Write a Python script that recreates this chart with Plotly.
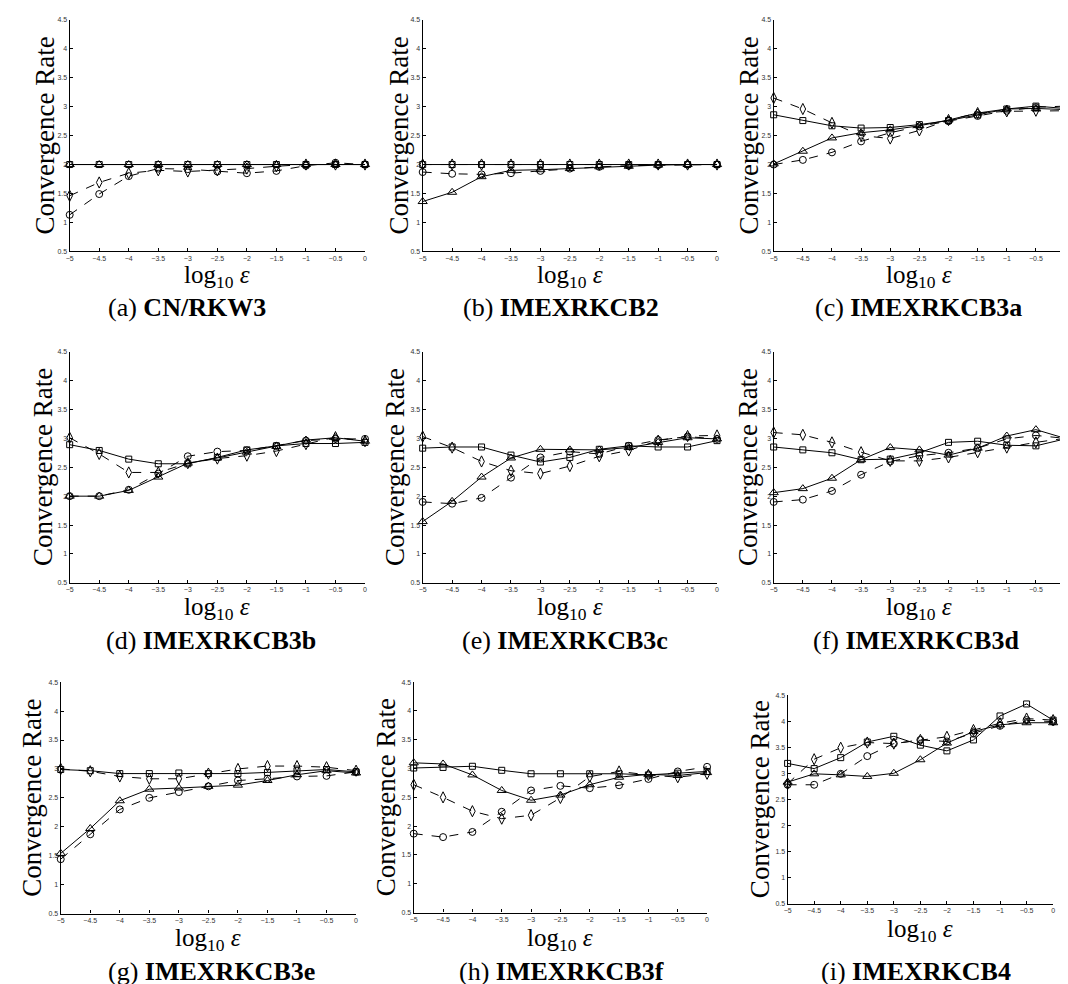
import plotly.graph_objects as go

W, H = 1068, 984

x_log_eps = [-5, -4.5, -4, -3.5, -3, -2.5, -2, -1.5, -1, -0.5, 0]

panel_labels = ["(a)", "(b)", "(c)", "(d)", "(e)", "(f)", "(g)", "(h)", "(i)"]
scheme_names = ["CN/RKW3", "IMEXRKCB2", "IMEXRKCB3a", "IMEXRKCB3b", "IMEXRKCB3c",
                "IMEXRKCB3d", "IMEXRKCB3e", "IMEXRKCB3f", "IMEXRKCB4"]

# series per panel: square (solid), triangle (solid), diamond (dashed), circle (dashed)
square_rates = [
    [2.0, 2.0, 2.0, 2.0, 2.0, 2.0, 2.0, 2.0, 2.0, 2.0, 2.0],
    [2.0, 2.0, 2.0, 2.0, 2.0, 2.0, 2.0, 2.0, 2.0, 2.0, 2.0],
    [2.86, 2.76, 2.67, 2.63, 2.64, 2.69, 2.76, 2.86, 2.96, 3.01, 2.97],
    [2.89, 2.79, 2.64, 2.56, 2.56, 2.67, 2.8, 2.87, 2.91, 2.91, 2.93],
    [2.83, 2.85, 2.85, 2.71, 2.59, 2.67, 2.81, 2.87, 2.85, 2.85, 2.96],
    [2.85, 2.8, 2.75, 2.63, 2.64, 2.75, 2.93, 2.95, 2.88, 2.87, 2.99],
    [2.99, 2.97, 2.92, 2.92, 2.93, 2.92, 2.92, 2.94, 2.97, 2.99, 2.95],
    [3.01, 3.02, 3.04, 2.97, 2.91, 2.91, 2.91, 2.91, 2.89, 2.92, 2.95],
    [3.19, 3.09, 3.3, 3.6, 3.71, 3.54, 3.43, 3.64, 4.1, 4.33, 4.02],
]
triangle_rates = [
    [2.0, 2.0, 2.0, 2.0, 2.0, 2.0, 2.0, 2.0, 2.0, 2.0, 2.0],
    [1.36, 1.52, 1.79, 1.9, 1.91, 1.93, 1.96, 1.97, 1.99, 2.0, 2.0],
    [2.01, 2.23, 2.46, 2.55, 2.6, 2.67, 2.77, 2.89, 2.96, 2.97, 2.95],
    [2.0, 2.0, 2.1, 2.33, 2.57, 2.66, 2.76, 2.86, 2.97, 3.01, 2.95],
    [1.56, 1.91, 2.33, 2.66, 2.81, 2.8, 2.8, 2.84, 2.93, 3.01, 2.99],
    [2.06, 2.13, 2.31, 2.63, 2.84, 2.8, 2.71, 2.83, 3.04, 3.15, 3.0],
    [1.54, 1.97, 2.45, 2.65, 2.67, 2.7, 2.72, 2.8, 2.9, 2.97, 2.93],
    [3.1, 3.08, 2.89, 2.62, 2.45, 2.54, 2.72, 2.85, 2.9, 2.88, 2.93],
    [2.83, 2.99, 2.97, 2.94, 3.0, 3.26, 3.58, 3.8, 3.93, 3.97, 3.97],
]
diamond_rates = [
    [1.46, 1.69, 1.85, 1.9, 1.88, 1.9, 1.93, 1.97, 2.0, 2.0, 2.0],
    [2.0, 2.0, 2.0, 2.0, 2.0, 2.0, 2.0, 2.0, 2.0, 2.0, 2.0],
    [3.15, 2.96, 2.72, 2.5, 2.45, 2.59, 2.77, 2.89, 2.92, 2.93, 2.93],
    [3.01, 2.73, 2.41, 2.41, 2.57, 2.65, 2.7, 2.78, 2.9, 3.02, 2.95],
    [3.03, 2.84, 2.6, 2.44, 2.39, 2.52, 2.69, 2.79, 2.96, 3.04, 3.05],
    [3.1, 3.06, 2.93, 2.76, 2.61, 2.61, 2.67, 2.76, 2.84, 2.93, 3.0],
    [3.0, 2.96, 2.87, 2.83, 2.83, 2.92, 3.0, 3.05, 3.05, 3.03, 2.97],
    [2.72, 2.5, 2.26, 2.13, 2.19, 2.49, 2.86, 2.95, 2.89, 2.85, 2.91],
    [2.8, 3.27, 3.49, 3.59, 3.57, 3.64, 3.7, 3.83, 3.96, 4.05, 4.02],
]
circle_rates = [
    [1.13, 1.49, 1.8, 1.93, 1.92, 1.88, 1.85, 1.89, 1.98, 2.03, 2.0],
    [1.87, 1.84, 1.83, 1.85, 1.89, 1.93, 1.96, 1.98, 1.99, 2.0, 2.0],
    [2.0, 2.08, 2.21, 2.4, 2.55, 2.66, 2.75, 2.84, 2.93, 2.99, 3.01],
    [2.0, 2.0, 2.11, 2.39, 2.69, 2.77, 2.79, 2.87, 2.96, 2.99, 2.99],
    [1.9, 1.87, 1.97, 2.32, 2.67, 2.77, 2.73, 2.87, 2.97, 3.03, 2.99],
    [1.9, 1.94, 2.09, 2.37, 2.6, 2.7, 2.75, 2.83, 2.99, 3.05, 3.0],
    [1.44, 1.87, 2.3, 2.5, 2.6, 2.7, 2.8, 2.83, 2.87, 2.88, 2.95],
    [1.87, 1.81, 1.9, 2.25, 2.62, 2.7, 2.66, 2.71, 2.82, 2.95, 3.03],
    [2.78, 2.78, 2.99, 3.33, 3.57, 3.64, 3.61, 3.77, 3.91, 4.02, 3.99],
]

# plot-area boxes in pixels: (left, right, top, bottom)
boxes = [
    (58, 355, 8, 241), (413, 709, 8, 241), (766, 1059, 8, 241),
    (58, 355, 342, 575), (413, 709, 342, 575), (766, 1059, 342, 575),
    (49, 346, 675, 908), (404, 699, 675, 907), (780, 1047, 688, 898),
]
ytitle_x = [33, 389, 741, 31, 385, 740, 20, 376, 753]
xtitle_y = [266, 266, 266, 601, 601, 601, 934, 934, 925]
sub_x = [95, 452, 806, 93, 451, 804, 95, 448, 812]
sub_y = [298, 298, 298, 633, 633, 633, 966, 966, 966]

SERIF = "Liberation Serif"
SANS = "Liberation Sans"

fig = go.Figure()
styles = [
    ("square-open", 6, "solid", square_rates),
    ("triangle-up-open", 8, "solid", triangle_rates),
    ("diamond-tall-open", 8, "dash", diamond_rates),
    ("circle-open", 7, "dash", circle_rates),
]

annotations = []
for k in range(9):
    ax = "" if k == 0 else str(k + 1)
    l, r, t, b = boxes[k]
    common = dict(
        tickmode="linear", dtick=0.5,
        ticks="inside", ticklen=3, tickwidth=1, tickcolor="black",
        showline=True, linecolor="black", linewidth=1.2, mirror=False,
        showgrid=False, zeroline=False, ticklabeloverflow="allow",
        tickfont=dict(family=SANS, size=7, color="#333"),
    )
    layout_x = dict(domain=[l / W, r / W], range=[-5, 0], tick0=-5, anchor="y" + ax, **common)
    layout_y = dict(domain=[1 - b / H, 1 - t / H], range=[0.5, 4.5], tick0=0.5, anchor="x" + ax, **common)
    fig.update_layout(**{"xaxis" + ax: layout_x, "yaxis" + ax: layout_y})
    for sym, size, dash, data in styles:
        fig.add_trace(go.Scatter(
            x=x_log_eps, y=data[k], mode="lines+markers",
            xaxis="x" + ax, yaxis="y" + ax, cliponaxis=False, showlegend=False,
            line=dict(color="black", width=1, dash=dash),
            marker=dict(symbol=sym, size=size, color="black", line=dict(width=1, color="black")),
        ))
    annotations.append(dict(
        x=ytitle_x[k] / W, y=1 - (t + b) / 2 / H, xref="paper", yref="paper",
        text="Convergence Rate", textangle=-90, showarrow=False,
        font=dict(family=SERIF, size=27, color="black"), xanchor="center", yanchor="middle",
    ))
    annotations.append(dict(
        x=(l + r) / 2 / W, y=1 - xtitle_y[k] / H, xref="paper", yref="paper",
        text="log<sub>10</sub> <i>ε</i>", showarrow=False,
        font=dict(family=SERIF, size=25, color="black"), xanchor="center", yanchor="middle",
    ))
    annotations.append(dict(
        x=sub_x[k] / W, y=1 - sub_y[k] / H, xref="paper", yref="paper",
        text=panel_labels[k] + " <b>" + scheme_names[k] + "</b>", showarrow=False,
        font=dict(family=SERIF, size=26, color="black"), xanchor="left", yanchor="middle",
    ))

fig.update_layout(
    width=W, height=H, autosize=False,
    margin=dict(l=0, r=0, t=0, b=0),
    paper_bgcolor="white", plot_bgcolor="white",
    annotations=annotations, showlegend=False,
)

fig.write_html("out.html")
